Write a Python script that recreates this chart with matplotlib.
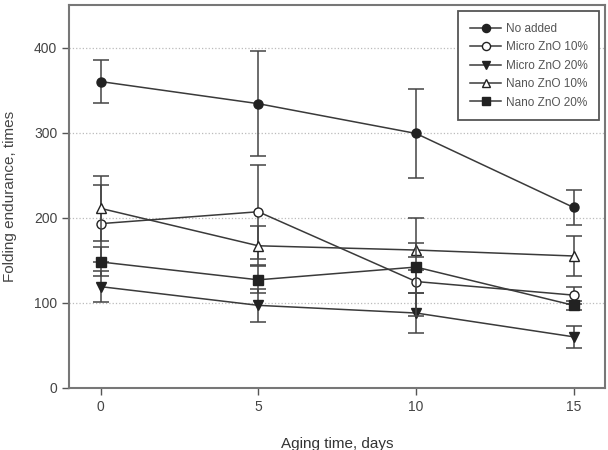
import matplotlib.pyplot as plt

days = [0, 5, 10, 15]

no_added = [360, 334, 299, 212]
no_added_err = [25, 62, 52, 20]

micro10 = [193, 207, 125, 109]
micro10_err = [45, 55, 13, 10]

micro20 = [119, 97, 88, 60]
micro20_err = [18, 19, 23, 13]

nano10 = [211, 167, 162, 155]
nano10_err = [38, 23, 8, 24]

nano20 = [148, 127, 142, 97]
nano20_err = [17, 16, 58, 5]

series = [
    ('No added', no_added, no_added_err, 'o', '#222222'),
    ('Micro ZnO 10%', micro10, micro10_err, 'o', 'white'),
    ('Micro ZnO 20%', micro20, micro20_err, 'v', '#222222'),
    ('Nano ZnO 10%', nano10, nano10_err, '^', 'white'),
    ('Nano ZnO 20%', nano20, nano20_err, 's', '#222222'),
]

plt.rcParams['font.family'] = ['Liberation Sans', 'DejaVu Sans']

fig = plt.figure(figsize=(6.08, 4.5), dpi=100)
ax = fig.add_axes([0.1135, 0.138, 0.882, 0.851])

for label, vals, err, marker, face in series:
    ax.errorbar(days, vals, yerr=err, fmt='none', ecolor='#444444',
                elinewidth=1.1, capsize=6, capthick=1.1)
    ax.plot(days, vals, label=label, color='#3a3a3a', lw=1.1,
            marker=marker, markersize=6.5, markerfacecolor=face,
            markeredgecolor='#222222', markeredgewidth=1)

for y in [100, 200, 300, 400]:
    ax.axhline(y, color='#bbbbbb', lw=0.9, ls=':', zorder=0)

ax.set_xlim(-1, 16)
ax.set_ylim(0, 450)
ax.set_xticks([0, 5, 10, 15])
ax.set_yticks([0, 100, 200, 300, 400])

for s in ax.spines.values():
    s.set_color('#777777')
    s.set_linewidth(1.5)
ax.tick_params(colors='#555555', labelcolor='#444444', labelsize=10, length=5, width=1)

ax.set_xlabel('Aging time, days', fontsize=11, color='#333333', labelpad=17)
ax.set_ylabel('Folding endurance, times', fontsize=11, color='#444444', labelpad=12)

leg = ax.legend(loc='upper right', fontsize=8.5, fancybox=False, framealpha=1,
                edgecolor='#555555', borderpad=1.0, labelspacing=0.55,
                handlelength=2.6, handletextpad=0.4, borderaxespad=0.5,
                markerscale=0.9)
leg.get_frame().set_linewidth(1.3)
for t in leg.get_texts():
    t.set_color('#555555')

plt.savefig('out.png', dpi=100)
